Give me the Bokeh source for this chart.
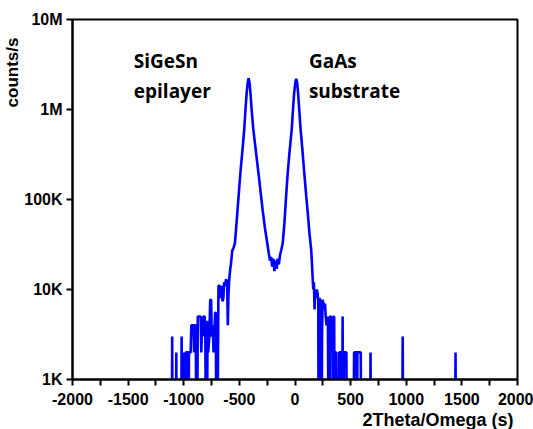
from bokeh.plotting import figure
from bokeh.models import Range1d, FixedTicker, Label, Title
from bokeh.embed import file_html
from bokeh.resources import INLINE

# ---- data (2Theta/Omega in s, counts/s) ----
# counts of 100 stand for "no counts": below the 1K axis floor
left_tail_theta = [-1200, -1108, -1104, -1100, -1072, -1067, -1062, -1024, -1019, -1014,
                   -1003, -998, -993, -986, -982, -962, -958, -953, -938, -932,
                   -912, -907, -900, -892, -886, -880, -874, -848, -842, -836,
                   -830, -824, -812, -806, -800, -792, -786, -780, -770, -762,
                   -754, -748, -740, -732, -726, -718, -712, -706, -698, -692,
                   -688, -676, -670, -662, -652, -644, -637, -628, -620, -610,
                   -604, -598, -591, -582]
left_tail_counts = [100, 100, 3000, 100, 100, 2000, 100, 100, 3000, 100,
                    100, 2000, 100, 100, 2000, 2000, 100, 2000, 2000, 4000,
                    4000, 2000, 4000, 4000, 100, 100, 5000, 5000, 2000, 4000,
                    3000, 5000, 5000, 3000, 100, 100, 4500, 2000, 3000, 7700,
                    7700, 3000, 4000, 2000, 3000, 5500, 5500, 100, 100, 2000,
                    11000, 11000, 8000, 11000, 7400, 8000, 12000, 11000, 13000, 12000,
                    4000, 9000, 13000, 17000]

peaks_theta = [-576, -564, -552, -540, -528, -518, -507, -495, -485, -470,
               -456, -445, -435, -425, -417, -409, -400, -390, -375, -360,
               -340, -320, -305, -290, -270, -248, -235, -225, -215, -205,
               -195, -185, -175, -165, -155, -145, -135, -122, -110, -95,
               -80, -65, -50, -29, -18, -8, 3, 11, 19, 28,
               38, 50, 65, 80, 101, 115, 130, 146]
peaks_counts = [19000, 27000, 29000, 33000, 50000, 72000, 109000, 170000, 240000, 380000,
                610000, 1000000, 1500000, 2000000, 2230000, 2000000, 1500000, 1000000, 610000, 420000,
                260000, 160000, 109000, 75000, 48000, 32000, 25000, 21000, 23000, 18000,
                22000, 16000, 21000, 17000, 22000, 19000, 24000, 28000, 33000, 55000,
                109000, 200000, 330000, 610000, 1000000, 1500000, 2000000, 2200000, 2000000, 1500000,
                1000000, 610000, 380000, 220000, 109000, 70000, 42000, 27000]

right_tail_theta = [152, 158, 164, 170, 176, 182, 190, 197, 203, 209,
                    213, 217, 221, 228, 234, 239, 243, 248, 256, 263,
                    270, 276, 283, 290, 296, 303, 309, 314, 325, 331,
                    336, 341, 347, 352, 357, 362, 370, 375, 392, 396,
                    418, 423, 428, 433, 440, 462, 467, 526, 531, 553,
                    557, 561, 591, 596, 674, 679, 684, 963, 968, 973,
                    1438, 1443, 1448, 1600]
right_tail_counts = [20000, 14000, 10000, 12000, 6000, 10000, 8000, 10000, 9000, 7700,
                     100, 100, 8000, 7500, 7000, 100, 3000, 7700, 7000, 6000,
                     7000, 5000, 4000, 5000, 4000, 100, 100, 5000, 5000, 2000,
                     5000, 100, 5000, 5000, 100, 2000, 2000, 100, 100, 2000,
                     2000, 100, 5000, 100, 2000, 2000, 100, 100, 2000, 2000,
                     100, 2000, 2000, 100, 100, 2000, 100, 100, 3000, 100,
                     100, 2000, 100, 100]

x_ticks = [-2000, -1500, -1000, -500, 0, 500, 1000, 1500, 2000]
x_tick_labels = ["-2000", "-1500", "-1000", "-500", "0", "500", "1000", "1500", "2000"]
x_minor_ticks = [-1750, -1250, -750, -250, 250, 750, 1250, 1750]
y_ticks = [1000, 10000, 100000, 1000000, 10000000]
y_tick_labels = ["1K", "10K", "100K", "1M", "10M"]

theta = left_tail_theta + peaks_theta + right_tail_theta
counts = left_tail_counts + peaks_counts + right_tail_counts

p = figure(width=533, height=429, y_axis_type="log",
           x_range=Range1d(-2000, 2000), y_range=Range1d(1000, 1e7),
           output_backend="svg", toolbar_location=None,
           min_border_left=5, min_border_right=16, min_border_top=19, min_border_bottom=5)
p.title.visible = False
p.background_fill_color = "white"
p.border_fill_color = "white"
p.grid.visible = False
p.outline_line_color = "black"
p.outline_line_width = 2
p.outline_line_alpha = 1

p.line(theta, counts, line_color="#0000FF", line_width=2.6)

p.xaxis.ticker = FixedTicker(ticks=x_ticks, minor_ticks=x_minor_ticks)
p.xaxis.major_label_overrides = {t: s for t, s in zip(x_ticks, x_tick_labels)}
p.yaxis.ticker = FixedTicker(ticks=y_ticks)
p.yaxis.major_label_overrides = {t: s for t, s in zip(y_ticks, y_tick_labels)}

for ax in p.axis:
    ax.axis_line_width = 2
    ax.axis_line_color = "black"
    ax.major_tick_line_width = 2
    ax.major_tick_line_color = "black"
    ax.major_tick_out = 6
    ax.major_tick_in = 0
    ax.minor_tick_line_width = 2
    ax.minor_tick_line_color = "black"
    ax.minor_tick_out = 6
    ax.minor_tick_in = 0
    ax.major_label_text_font = "Liberation Sans"
    ax.major_label_text_font_style = "bold"
    ax.major_label_text_font_size = "16px"
    ax.major_label_text_color = "black"
p.xaxis.major_label_standoff = 7
p.yaxis.major_label_standoff = 4

xt = Title(text="2Theta/Omega (s)", align="right", text_font="Liberation Sans",
           text_font_style="bold", text_font_size="18px", text_color="black",
           standoff=0, offset=4)
p.add_layout(xt, "below")
yt = Title(text="counts/s", align="right", text_font="Liberation Sans",
           text_font_style="bold", text_font_size="17px", text_color="black",
           standoff=0, offset=18)
p.add_layout(yt, "left")

ann_font = dict(text_font="Open Sans", text_font_style="bold", text_font_size="19px",
                text_color="black", text_baseline="alphabetic", text_align="left")
p.add_layout(Label(x=-1449, y=3.5e6, text="SiGeSn", **ann_font))
p.add_layout(Label(x=-1449, y=1.6e6, text="epilayer", **ann_font))
p.add_layout(Label(x=125, y=3.5e6, text="GaAs", **ann_font))
p.add_layout(Label(x=125, y=1.6e6, text="substrate", **ann_font))

open("out.html", "w").write(file_html(p, INLINE))
